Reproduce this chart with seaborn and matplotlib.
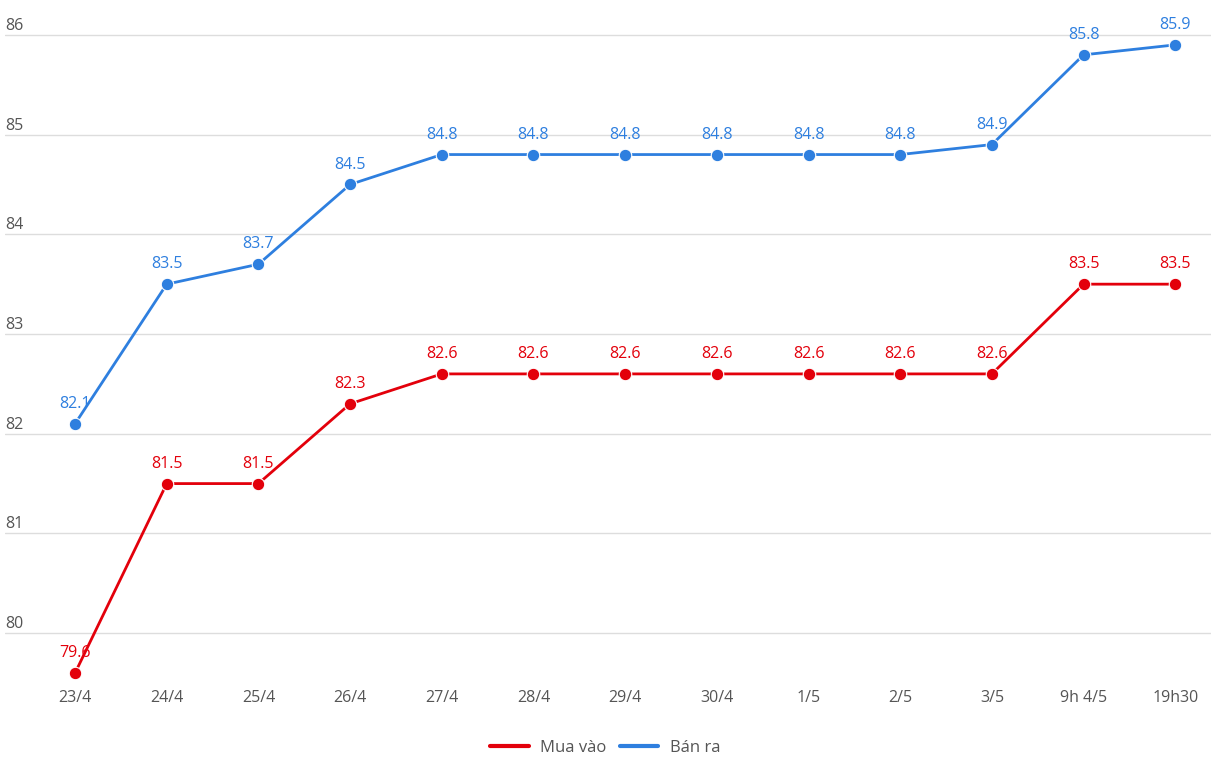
import pandas as pd
import numpy as np
import matplotlib.pyplot as plt
import matplotlib.transforms as mtransforms
import seaborn as sns

# --- Dados ---
ngay = ['23/4', '24/4', '25/4', '26/4', '27/4', '28/4', '29/4', '30/4',
        '1/5', '2/5', '3/5', '9h 4/5', '19h30']
mua_vao = [79.6, 81.5, 81.5, 82.3, 82.6, 82.6, 82.6, 82.6, 82.6, 82.6, 82.6, 83.5, 83.5]
ban_ra = [82.1, 83.5, 83.7, 84.5, 84.8, 84.8, 84.8, 84.8, 84.8, 84.8, 84.9, 85.8, 85.9]
y_ticks = [80, 81, 82, 83, 84, 85, 86]

MAU_DO = '#e3000b'
MAU_XANH = '#2e7fdf'

sns.set_theme(style="white")
plt.rcParams['font.family'] = ['Open Sans', 'DejaVu Sans']

df = pd.DataFrame({
    'x': list(range(len(ngay))) * 2,
    'gia': mua_vao + ban_ra,
    'loai': ['Mua vào'] * len(ngay) + ['Bán ra'] * len(ngay),
})

fig = plt.figure(figsize=(12.11, 7.66), dpi=100)
ax = fig.add_axes([5 / 1211, 83 / 766, 1 - 5 / 1211, 683 / 766])

for y in y_ticks:
    ax.axhline(y, color='#dddddd', lw=1, zorder=0)

sns.lineplot(data=df, x='x', y='gia', hue='loai', palette=[MAU_DO, MAU_XANH],
             marker='o', markersize=9, markeredgecolor='white', markeredgewidth=0.8,
             linewidth=2, ax=ax, legend=False)

# nhãn giá trị
for serie, cor in [(mua_vao, MAU_DO), (ban_ra, MAU_XANH)]:
    for i, v in enumerate(serie):
        ax.annotate(f'{v:.1f}', (i, v), xytext=(0, 8.5), textcoords='offset points',
                    ha='center', va='bottom', color=cor, fontsize=11.5)

ax.set_xlim(-0.764, 12.39)
ax.set_ylim(79.5, 86.35)
ax.set_xticks(range(len(ngay)))
ax.set_xticklabels(ngay, color='#555555', fontsize=11.5)
ax.set_yticks(y_ticks)
ax.set_yticklabels([])
ax.tick_params(axis='both', length=0)
ax.tick_params(axis='x', pad=5)
ax.set_xlabel('')
ax.set_ylabel('')
for s in ax.spines.values():
    s.set_visible(False)

# nhãn trục y nằm phía trên đường lưới
trans = mtransforms.blended_transform_factory(ax.transAxes, ax.transData)
for y in y_ticks:
    ax.text(0.0, y + 0.01, str(y), transform=trans, ha='left', va='bottom',
            color='#555555', fontsize=11.5)

handles = [plt.Line2D([], [], color=MAU_DO, lw=3),
           plt.Line2D([], [], color=MAU_XANH, lw=3)]
fig.legend(handles, ['Mua vào', 'Bán ra'], loc='center', bbox_to_anchor=(0.5, 18 / 766),
           ncol=2, frameon=False, fontsize=12, handlelength=2.3, columnspacing=0.8,
           handletextpad=0.7, labelcolor='#555555')

fig.savefig('out.png', dpi=100)
